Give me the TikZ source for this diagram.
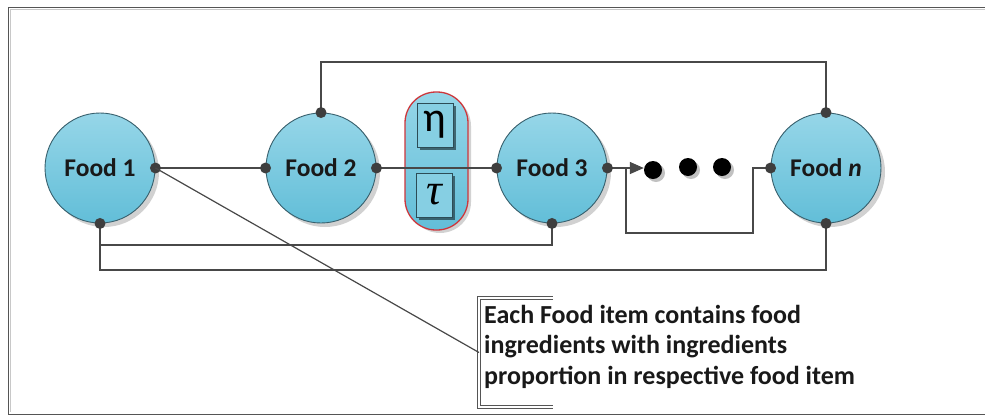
\documentclass[tikz,border=0pt]{standalone}
\usepackage{fontspec}
\setmainfont{Carlito}
\newfontfamily\greekserif{Liberation Serif}
\usetikzlibrary{arrows.meta,calc,shadings}
\definecolor{lineg}{RGB}{72,72,72}
\definecolor{dotg}{RGB}{62,62,62}
\definecolor{rim}{RGB}{55,95,108}
\definecolor{bluetop}{RGB}{150,214,232}
\definecolor{bluebot}{RGB}{98,190,216}
\definecolor{capred}{RGB}{205,55,60}
\definecolor{framedark}{RGB}{85,85,85}
\definecolor{framelight}{RGB}{200,200,200}
\tikzset{
  x=1pt, y=-1pt,
  food/.style={circle, minimum size=110pt, inner sep=0pt, draw=rim, line width=0.9pt,
    top color=bluetop, bottom color=bluebot,
    font=\fontsize{25.5}{28}\selectfont\bfseries, text=black!90},
  foodshadow/.style={circle, minimum size=110pt, fill=black!45, opacity=0.4},
  wire/.style={draw=lineg, line width=1.4pt},
  pin/.style={fill=dotg},
  greekbox/.style={rectangle, minimum width=36pt, minimum height=44pt, inner sep=0pt,
    draw=rim!80!black, line width=1pt, fill=bluetop!70!bluebot},
  boxshadow/.style={rectangle, minimum width=36pt, minimum height=44pt, fill=rim!70!black, opacity=0.75},
  bigdot/.style={circle, minimum size=18pt, inner sep=0pt, fill=black},
  dotshadow/.style={circle, minimum size=18pt, inner sep=0pt, fill=black!40, opacity=0.6},
  notetext/.style={align=left, inner sep=0pt, font=\fontsize{26}{30.5}\selectfont\bfseries, text=black!90},
  bracket/.style={draw=framedark, double=white, double distance=1.6pt, line width=0.8pt},
}
\begin{document}
\begin{tikzpicture}
\useasboundingbox (0,0) rectangle (985,416);
\fill[white] (0,0) rectangle (985,416);

% outer frame (right side open)
\draw[framedark, line width=1.8pt] (985,7.5) -- (8.5,7.5) -- (8.5,414.5) -- (985,414.5);
\draw[framelight, line width=1pt] (985,9.8) -- (10.8,9.8) -- (10.8,412.2);

% drop shadows of the food circles
\foreach \cx in {100,321,552,826}
  \node[foodshadow] at (\cx+4,172) {};

% food circles
\node[food] (f1) at (100,168) {Food 1};
\node[food] (f2) at (321,168) {Food 2};
\node[food] (f3) at (552,168) {Food 3};
\node[food] (fn) at (826,168) {Food \textit{n}};

% capsule holding the two parameters
\fill[black!35, opacity=0.5, rounded corners=31pt] (409,95) rectangle (471,233);
\draw[capred, line width=1.3pt, top color=bluetop, bottom color=bluebot, rounded corners=31pt]
  (405,92) rectangle (468,230);
\node[boxshadow] at (438,128) {};
\node[greekbox] (eta) at (435,125) {\fontsize{42}{42}\selectfont η};
\node[boxshadow] at (437,198) {};
\node[greekbox] (tau) at (434,195) {\greekserif\itshape\fontsize{44}{44}\selectfont τ};

% the remaining items
\node[dotshadow] at (656,173) {};
\node[dotshadow] at (691,170) {};
\node[dotshadow] at (725,170) {};
\node[bigdot] (d1) at (653,170) {};
\node[bigdot] (d2) at (688,167) {};
\node[bigdot] (d3) at (722,167) {};

% helper levels for the routed wires
\coordinate (topy) at (0,62);
\coordinate (low1) at (0,245);
\coordinate (low2) at (0,270);
\coordinate (jn) at (626,168);
\coordinate (jr) at (753,168);

% wires between the items
\draw[wire] (f1.east) -- (f2.west);
\draw[wire] (f2.east) -- (f3.west);
\draw[wire] (f2.north) -- (f2.north |- topy) -| (fn.north);
\draw[wire] (f1.south) -- (f1.south |- low1) -| (f3.south);
\draw[wire] (f1.south) -- (f1.south |- low2) -| (fn.south);
\draw[wire, -{Triangle[length=14pt, width=12pt]}] (f3.east) -- (f3.east -| d1.west);
\draw[wire] (jn) -- ++(0,65) -| (jr) -- (fn.west);

% connection points
\foreach \a in {f1.east,f1.south,f2.west,f2.east,f2.north,f3.west,f3.east,f3.south,fn.west,fn.north,fn.south}
  \fill[pin] (\a) circle (5.5pt);

% annotation
\node[notetext, anchor=north west] (note) at (484,305)
  {Each Food item contains food\\ingredients with ingredients\\proportion in respective food item};
\coordinate (tip) at (479,352.5);
\draw[bracket] ($(tip)+(74,-54.5)$) -- ($(tip)+(0,-54.5)$) -- ($(tip)+(0,54.5)$) -- ($(tip)+(74,54.5)$);
\draw[draw=lineg, line width=1.2pt] (f1.east) -- (tip);
\end{tikzpicture}
\end{document}
